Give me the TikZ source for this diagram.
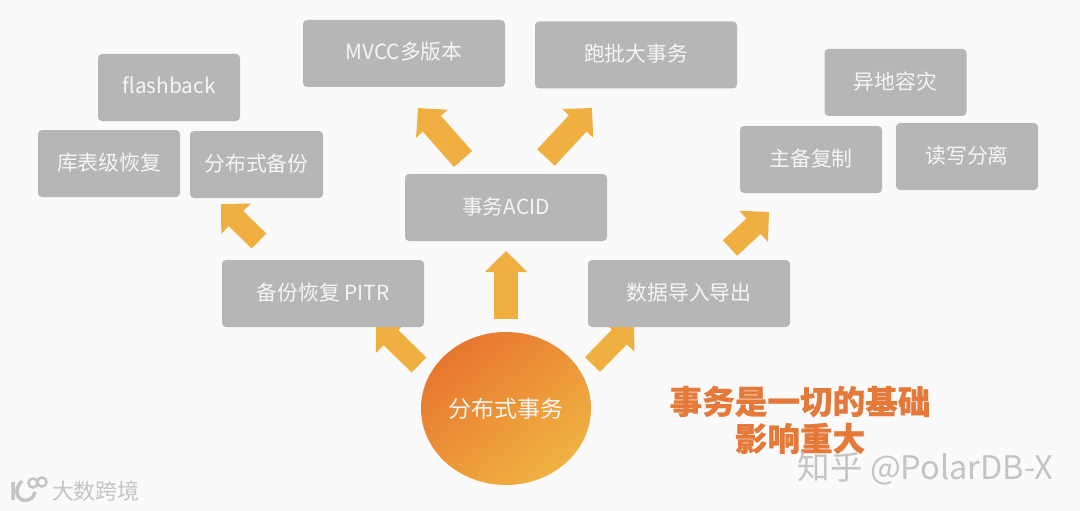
\documentclass[tikz,border=0pt]{standalone}
\usepackage{fontspec}
\setmainfont{Noto Sans CJK SC}
\usetikzlibrary{arrows.meta,backgrounds,calc,shapes.geometric}
\definecolor{boxgray}{HTML}{B6B6B6}
\definecolor{arrowyellow}{HTML}{EFB041}
\definecolor{hubdark}{HTML}{E8762F}
\definecolor{hublight}{HTML}{EFB342}
\definecolor{pagegray}{HTML}{FAFAFA}
\definecolor{titleorange}{HTML}{E5793A}
\definecolor{markgray}{HTML}{C4C4C4}
\begin{document}
\begin{tikzpicture}[
  x=1pt, y=-1pt,
  tbox/.style={rectangle, fill=boxgray, rounded corners=4pt, minimum width=202pt, minimum height=67pt, inner sep=0pt, text height=16.5pt, text depth=3.5pt, text=white!96!black, font=\fontsize{20.8}{24}\selectfont},
  sbox/.style={tbox, minimum width=142pt},
  hubnode/.style={ellipse, minimum width=170pt, minimum height=153pt, inner sep=0pt, top color=hubdark, bottom color=hublight, shading angle=40, text=white!96!black, font=\fontsize{23}{26}\selectfont},
  bigarrow/.style={draw=arrowyellow, fill=arrowyellow, line width=24pt, -{Triangle[width=41pt,length=21pt]}},
  smallarrow/.style={bigarrow, line width=21pt},
  markfont/.style={text=markgray, inner sep=0pt}
]
  \useasboundingbox (0,0) rectangle (1080,511);

  % root
  \node[hubnode] (hub) at (506,408.5) {分布式事务};

  % second level
  \node[tbox] (acid) at (506,207.5) {事务ACID};
  \node[tbox] (pitr) at (323,293.5) {备份恢复 PITR};
  \node[tbox] (load) at (689,293.5) {数据导入导出};

  % top level
  \node[tbox] (mvcc) at (404,53.5) {MVCC多版本};
  \node[tbox] (batch) at (636,55) {跑批大事务};
  \node[sbox] (flashback) at (169,87.5) {flashback};
  \node[sbox] (tablerestore) at (109,163.5) {库表级恢复};
  \node[sbox, minimum width=133pt] (distbackup) at (256.5,164.5) {分布式备份};
  \node[sbox] (disaster) at (895.5,82.5) {异地容灾};
  \node[sbox] (replica) at (811,159.5) {主备复制};
  \node[sbox] (rwsplit) at (967,156.5) {读写分离};

  % arrows, kept under the boxes
  \begin{pgfonlayer}{background}
    \fill[pagegray] (0,0) rectangle (1080,511);
    \draw[bigarrow] ($(hub)+(0,-89.5)$) -- ($(acid)+(0,43.5)$);
    \draw[smallarrow] ($(hub)+(-87,-43.5)$) -- ($(pitr)+(53,29.5)$);
    \draw[smallarrow] ($(hub)+(86.5,-44)$) -- ($(load)+(-55,28.5)$);
    \draw[bigarrow] ($(acid)+(-43,-48.5)$) -- ($(mvcc)+(14,54.5)$);
    \draw[bigarrow] ($(acid)+(40,-50)$) -- ($(batch)+(-44,53)$);
    \draw[smallarrow] ($(pitr)+(-64,-52.5)$) -- ($(distbackup)+(-35.5,39.5)$);
    \draw[smallarrow] ($(load)+(41,-45.5)$) -- ($(replica)+(-42,52.5)$);
  \end{pgfonlayer}

  % slogan
  \node[text=titleorange, font=\fontsize{32.6}{37}\selectfont\bfseries\addfontfeature{FakeBold=0.6}, align=center, inner sep=0pt] (slogan) at (800,420) {事务是一切的基础\\影响重大};

  % watermarks
  \node[markfont, font=\fontsize{32.5}{34}\selectfont] (zhihu) at (925.5,469) {知乎 @PolarDB-X};
  \node[markfont, font=\fontsize{22}{25}\selectfont] (dashu) at (96,491) {大数跨境};
  \draw[markgray, line width=2.5pt] (33,483) circle (4.5) (42,482) circle (4.5);
  \draw[markgray, line width=3.5pt] (13,482) -- (13,500) (22,481) .. controls (12,490) and (18,503) .. (28,500) .. controls (32,499) and (34,496) .. (35,492);
\end{tikzpicture}
\end{document}
